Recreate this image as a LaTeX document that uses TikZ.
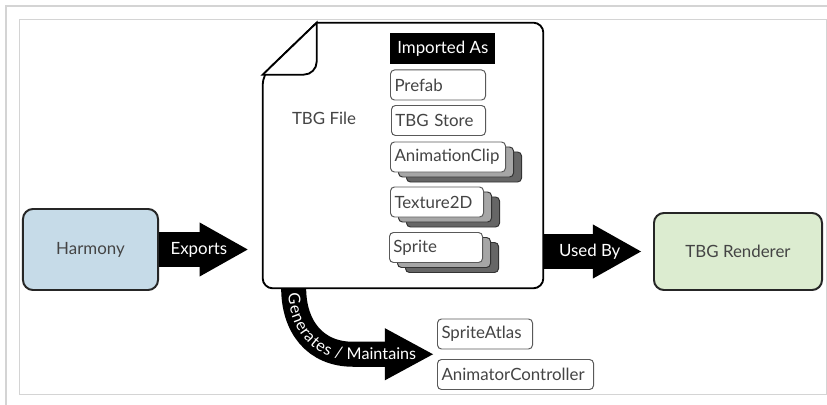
\documentclass[tikz,border=0pt]{standalone}
\usepackage{fontspec}
\setmainfont{Lato}
\usetikzlibrary{arrows.meta,positioning,calc,shadows,decorations.text}
\definecolor{harmony_blue}{RGB}{198,219,232}
\definecolor{renderer_green}{RGB}{220,236,208}
\definecolor{label_gray}{RGB}{68,68,68}
\definecolor{frame_gray}{RGB}{212,212,212}

\begin{document}
\begin{tikzpicture}[
                x=0.025cm, y=-0.025cm,
                every node/.style={inner sep=2pt, font=\fontsize{12}{14}\selectfont},
                tool/.style={draw=black!85, line width=1.4pt, rounded corners=0.25cm, text=label_gray, align=center},
                docbox/.style={inner sep=0pt, minimum width=7cm, minimum height=6.625cm},
                docline/.style={draw=black, line width=1.3pt, fill=white},
                itembox/.style={draw=black!65, fill=white, line width=0.7pt, rounded corners=0.1cm, text=label_gray, anchor=west, inner xsep=0.1cm, minimum height=0.75cm, text width=#1, align=left},
                headbox/.style={fill=black, text=white, anchor=west, minimum width=2.625cm, minimum height=0.775cm},
                stacked/.style={copy shadow={shadow xshift=0.4cm, shadow yshift=-0.25cm, fill=black!60, draw=black!80, line width=0.7pt},
                                copy shadow={shadow xshift=0.2cm, shadow yshift=-0.125cm, fill=black!35, draw=black!80, line width=0.7pt}},
                blockarrow/.style={black, line width=0.875cm, -{Triangle[length=1.2cm 0 0, width=1.35cm 0 0, line width=0pt 0 0]}},
                arrowlabel/.style={text=white}
            ]
                \useasboundingbox (0,0) rectangle (827,405);

                % Page frame (gray)
                \draw[frame_gray, line width=1.5pt] (5,6) -- (827,6);
                \draw[frame_gray, line width=1.5pt] (6,6) -- (6,405);
                \draw[frame_gray, line width=0.6pt] (19.5,19.5) rectangle (826,394);

                % Elements placing
                \node[docbox] (file) at (403,155.5) {};
                \node[tool, fill=harmony_blue, minimum width=3.375cm, minimum height=2.025cm] (harmony) at (90.5,249.5) {Harmony};
                \node[tool, fill=renderer_green, minimum width=4.2cm, minimum height=1.925cm] (renderer) at (738,251.5) {TBG Renderer};

                % Generated assets
                \node[itembox=2.175cm] (atlas) at (437,334) {SpriteAtlas};
                \node[itembox=3.7cm] (controller) at (437,374.5) {AnimatorController};
                \coordinate (gen_start) at ($(file.south west)+(31,0)$);
                \coordinate (gen_end) at ($($(atlas.west)!0.5!(controller.west)$)+(-4,0)$);

                % Block arrows
                \draw[blockarrow] (harmony.east) -- node[arrowlabel, pos=0.45] {Exports} ($(harmony.east -| file.west)+(-15,0)$);
                \draw[blockarrow] (renderer.west -| file.east) -- node[arrowlabel, pos=0.475] {Used By} ($(renderer.west)+(-12,0)$);
                \draw[blockarrow, line width=0.625cm, -{Triangle[length=1.2cm 0 0, width=1.3cm 0 0, line width=0pt 0 0]}]
                    (gen_start) to[out=-90, in=180, looseness=1.1] ($(gen_end)+(-80,0)$) -- (gen_end);
                \path[decorate, decoration={text along path, text align={left indent=0.12cm}, raise=-4pt,
                      text={|\color{white}\fontsize{11.5}{14}\selectfont|Generates / Maintains}}]
                    (gen_start) to[out=-90, in=180, looseness=1.1] ($(gen_end)+(-80,0)$) -- (gen_end);

                % TBG File document with folded corner
                \coordinate (fold_top) at ($(file.north west)+(54,0)$);
                \coordinate (fold_left) at ($(file.north west)+(0,52)$);
                \draw[docline] (fold_top) [rounded corners=0.25cm] -- (file.north east) -- (file.south east) -- (file.south west) -- (fold_left) [sharp corners] -- cycle;
                \draw[docline] (fold_top) -- ++(0,39) to[out=-90, in=0] ++(-13,13) -- (fold_left) -- cycle;
                \node[text=label_gray] (filelabel) at (324,118) {TBG File};

                % Imported assets
                \node[headbox] (imported) at (390,48.5) {Imported As};
                \node[itembox=2.175cm] (prefab) at (390,85) {Prefab};
                \node[itembox=2.15cm] (store) at (391,120.5) {TBG Store};
                \node[itembox=2.675cm, stacked] (clip) at (390,157) {AnimationClip};
                \node[itembox=2.125cm, stacked] (texture) at (390,202) {Texture2D};
                \node[itembox=2.125cm, stacked] (sprite) at (389,247.5) {Sprite};
            \end{tikzpicture}
\end{document}
